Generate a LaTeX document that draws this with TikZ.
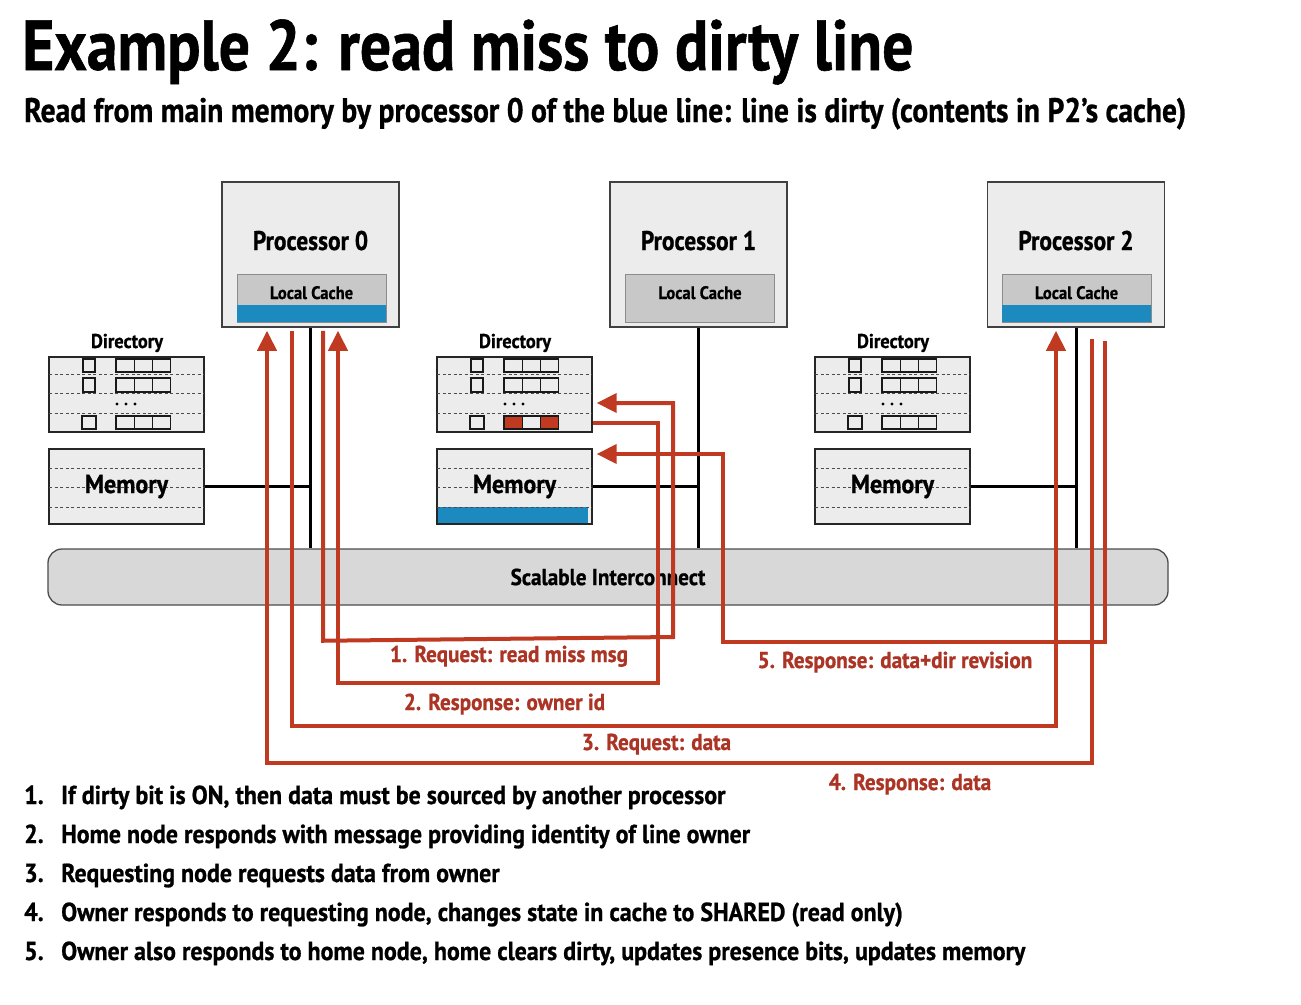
\documentclass[tikz,border=0pt]{standalone}
\usepackage{fontspec}
\setmainfont{PT Sans}
\newfontfamily\fA{PT Sans Bold}[FakeStretch=0.87, FakeBold=0.8]
\newfontfamily\fB{PT Sans Bold}[FakeStretch=0.92, FakeBold=0.8]
\usetikzlibrary{arrows.meta,calc}
\definecolor{msgred}{RGB}{192,57,33}
\definecolor{lblred}{RGB}{172,52,36}
\definecolor{cacheblue}{RGB}{28,138,190}
\definecolor{boxgray}{RGB}{236,236,236}
\definecolor{cachegray}{RGB}{200,200,200}
\definecolor{icgray}{RGB}{216,216,216}
\newcommand\fa[1]{\fontsize{#1}{#1}\fA}
\newcommand\fb[1]{\fontsize{#1}{#1}\fB}
\newcommand\dirunit[3]{%
\begin{scope}[xshift=#1pt]
  \node[dirbox] (d#2) at (126.5,394.5) {};
  \node[anchor=base, inner sep=0, font=\fb{20}] (dl#2) at (127,348) {Directory};
  \foreach \yy in {374,393,413} \draw[dotline] (49,\yy) -- (204,\yy);
  \foreach \ya/\yb in {359/372,378/392} {
    \draw[bit] (83,\ya) rectangle (95,\yb);
    \foreach \k in {0,1,2} \draw[bit] (116+18.3*\k,\ya) rectangle (134.3+18.3*\k,\yb);
  }
  \draw[bit] (82,416) rectangle (96,429);
  \draw[bit, fill=#3] (116,416) rectangle (134.3,429);
  \draw[bit] (134.3,416) rectangle (152.6,429);
  \draw[bit, fill=#3] (152.6,416) rectangle (170.9,429);
  \foreach \xx in {117,126,135} \fill (\xx,404) circle (1.6);
  \node[dirbox] (m#2) at (126.5,486.5) {};
\end{scope}}
\newcommand\memlines[1]{%
\begin{scope}[xshift=#1pt]
  \foreach \yy in {468,487,507} \draw[dotline] (49,\yy) -- (204,\yy);
\end{scope}}
\begin{document}
\begin{tikzpicture}[x=1pt,y=-1pt,
  procbox/.style={draw=black!75, fill=boxgray, line width=1.5pt, minimum width=177pt, minimum height=145pt, inner sep=0},
  cachebox/.style={draw=black!45, fill=cachegray, line width=1pt, minimum width=149pt, minimum height=48pt, inner sep=0},
  dirbox/.style={draw=black!85, fill=boxgray, line width=1.4pt, minimum width=155pt, minimum height=75pt, inner sep=0},
  dotline/.style={black!70, line width=1pt, dash pattern=on 3pt off 2.5pt},
  bit/.style={draw=black!90, fill=boxgray, line width=1.1pt},
  wire/.style={black, line width=3pt},
  msg/.style={msgred, line width=4pt, -{Triangle[length=20pt,width=19pt]}},
  lbl/.style={anchor=base, inner sep=0, text=lblred, font=\fb{23}},
  item/.style={anchor=base west, inner sep=0, font=\fb{26}},
  ptext/.style={anchor=base, inner sep=0, font=\fa{27}},
  ctext/.style={anchor=base, inner sep=0, font=\fb{18}}]
\path[use as bounding box, fill=white] (0,0) rectangle (1301,1004);

% titles
\node[anchor=base west, inner sep=0, font=\fa{71}] (title) at (22,70) {Example 2: read miss to dirty line};
\node[anchor=base west, inner sep=0, font=\fa{34}] (sub) at (24,122) {Read from main memory by processor 0 of the blue line: line is dirty (contents in P2’s cache)};

% processors
\node[procbox] (p0) at (310.5,254.5) {};
\node[procbox] (p1) at (698.5,254.5) {};
\node[procbox] (p2) at (1076,254.5) {};
\node[ptext] (p0t) at (310.5,250) {Processor 0};
\node[ptext] (p1t) at (698.5,250) {Processor 1};
\node[ptext] (p2t) at (1076,250) {Processor 2};
\node[cachebox] (c0) at (311.5,298) {};
\node[cachebox] (c1) at (700,298) {};
\node[cachebox] (c2) at (1076.5,298) {};
\fill[cacheblue] ($(c0.south west)+(0.5,-0.5)$) rectangle ($(c0.east)+(-0.5,7)$);
\fill[cacheblue] ($(c2.south west)+(0.5,-0.5)$) rectangle ($(c2.east)+(-0.5,7)$);
\node[ctext] (c0t) at (311.5,299) {Local Cache};
\node[ctext] (c1t) at (700,299) {Local Cache};
\node[ctext] (c2t) at (1076.5,299) {Local Cache};

% directories and memories
\dirunit{0}{0}{boxgray}
\dirunit{388}{1}{msgred}
\dirunit{766}{2}{boxgray}
\fill[cacheblue] (438,507) rectangle (588,523);
\memlines{0}\memlines{388}\memlines{766}
\node[anchor=base, inner sep=0, font=\fb{26}] (m0t) at (126.5,493) {Memory};
\node[anchor=base, inner sep=0, font=\fb{26}] (m1t) at (514.5,493) {Memory};
\node[anchor=base, inner sep=0, font=\fb{26}] (m2t) at (892.5,493) {Memory};

% interconnect
\node[draw=black!70, fill=icgray, line width=1.3pt, rounded corners=14pt, minimum width=1120pt, minimum height=56pt, inner sep=0, font=\fb{23}] (ic) at (608,577) {Scalable Interconnect};

% black wires
\foreach \p in {0,1,2} {
  \draw[wire] (p\p.south) -- (p\p.south |- ic.north);
  \draw[wire] ($(d\p.east)+(0,-1.5)$) -- ($(d\p.east)+(0,-1.5)$ -| p\p.south);
  \draw[wire] (m\p.east) -- (m\p.east -| p\p.south);
}

% red messages
\draw[msg] ($(p0.south)+(12.5,3)$) -- ++(0,310) -- (673,637) -- (673,403) -- ($(d1.east)+(4,8.5)$);
\draw[msg] ($(d1.east)+(0,28.5)$) -- (658,423) -- (658,683) -- (338,683) -- ($(p0.south)+(27.5,3)$);
\draw[msg] ($(p0.south)+(-19,3)$) -- (291.5,726) -- (1056,726) -- ($(p2.south)+(-20,3)$);
\draw[msg] ($(p2.south)+(16,11)$) -- (1092,763) -- (267,763) -- ($(p0.south)+(-43.5,3)$);
\draw[msg] ($(p2.south)+(28.5,13)$) -- (1104.5,642) -- (723,642) -- (723,454) -- ($(m1.east)+(4,-32.5)$);

% message labels
\node[lbl] (l1) at (509,662) {1. Request: read miss msg};
\node[lbl] (l2) at (504.5,710) {2. Response: owner id};
\node[lbl] (l3) at (656.5,750) {3. Request: data};
\node[lbl] (l4) at (910,790) {4. Response: data};
\node[lbl] (l5) at (895,668) {5. Response: data+dir revision};

% list
\node[item] (n1) at (24,804) {1.};
\node[item] (n2) at (24,843) {2.};
\node[item] (n3) at (24,882) {3.};
\node[item] (n4) at (24,921) {4.};
\node[item] (n5) at (24,960) {5.};
\node[item] (t1) at (61,804) {If dirty bit is ON, then data must be sourced by another processor};
\node[item] (t2) at (61,843) {Home node responds with message providing identity of line owner};
\node[item] (t3) at (61,882) {Requesting node requests data from owner};
\node[item] (t4) at (61,921) {Owner responds to requesting node, changes state in cache to SHARED (read only)};
\node[item] (t5) at (61,960) {Owner also responds to home node, home clears dirty, updates presence bits, updates memory};
\end{tikzpicture}
\end{document}
